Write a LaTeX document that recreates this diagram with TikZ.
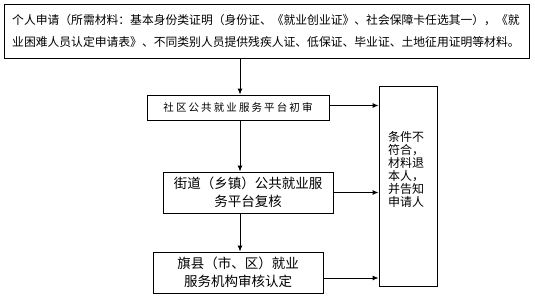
\documentclass[tikz,border=0pt]{standalone}
\usepackage{fontspec}
\setmainfont{Noto Sans CJK SC}
\newfontfamily\cjkspaced[LetterSpace=20]{Noto Sans CJK SC}
\usetikzlibrary{arrows.meta,calc}
\begin{document}
\begin{tikzpicture}[x=1pt,y=-1pt,
  box/.style={draw,line width=0.9pt,inner sep=0pt},
  arr/.style={line width=0.9pt,-{Latex[length=6pt,width=5pt]}}]
\useasboundingbox (0,0) rectangle (535,298);
% top box
\node[box,minimum width=525pt,minimum height=54pt] (top) at (266.5,31) {};
\node[anchor=west,align=left,inner sep=0pt,font=\fontsize{11.8pt}{22pt}\selectfont] (toptext) at (12,31)
  {个人申请（所需材料：基本身份类证明（身份证、《就业创业证》、社会保障卡任选其一），《就\\
   业困难人员认定申请表》、不同类别人员提供残疾人证、低保证、毕业证、土地征用证明等材料。};
% step boxes
\node[box,minimum width=182pt,minimum height=25pt] (b2) at (238,107.5)
  {\cjkspaced\fontsize{10.5pt}{12pt}\selectfont 社区公共就业服务平台初审};
\node[box,minimum width=170pt,minimum height=41pt,align=center,
  font=\fontsize{13.5pt}{18pt}\selectfont] (b3) at (248,192.5)
  {街道（乡镇）公共就业服\\务平台复核};
\node[box,minimum width=170pt,minimum height=41pt,align=center,
  font=\fontsize{13.5pt}{18pt}\selectfont] (b4) at (238,272.5)
  {旗县（市、区）就业\\服务机构审核认定};
% right box
\node[box,minimum width=58pt,minimum height=200pt] (rb) at (408,186) {};
\node[anchor=north west,align=left,inner sep=0pt,font=\fontsize{12pt}{13pt}\selectfont] (rbtext) at (388,131)
  {条件不\\符合，\\材料退\\本人，\\并告知\\申请人};
% connectors
\coordinate (xl) at (240,0);
\draw[arr] (top.south -| xl) -- (b2.north -| xl);
\draw[arr] (b2.south -| xl) -- (b3.north -| xl);
\draw[arr] (b3.south -| xl) -- (b4.north -| xl);
\draw[arr] ([yshift=2pt]b2.east) -- ([yshift=2pt]b2.east -| rb.west);
\draw[arr] (b3.east) -- (b3.east -| rb.west);
\draw[arr] ([yshift=-5.5pt]b4.east) -- ([yshift=-5.5pt]b4.east -| rb.west);
\end{tikzpicture}
\end{document}
